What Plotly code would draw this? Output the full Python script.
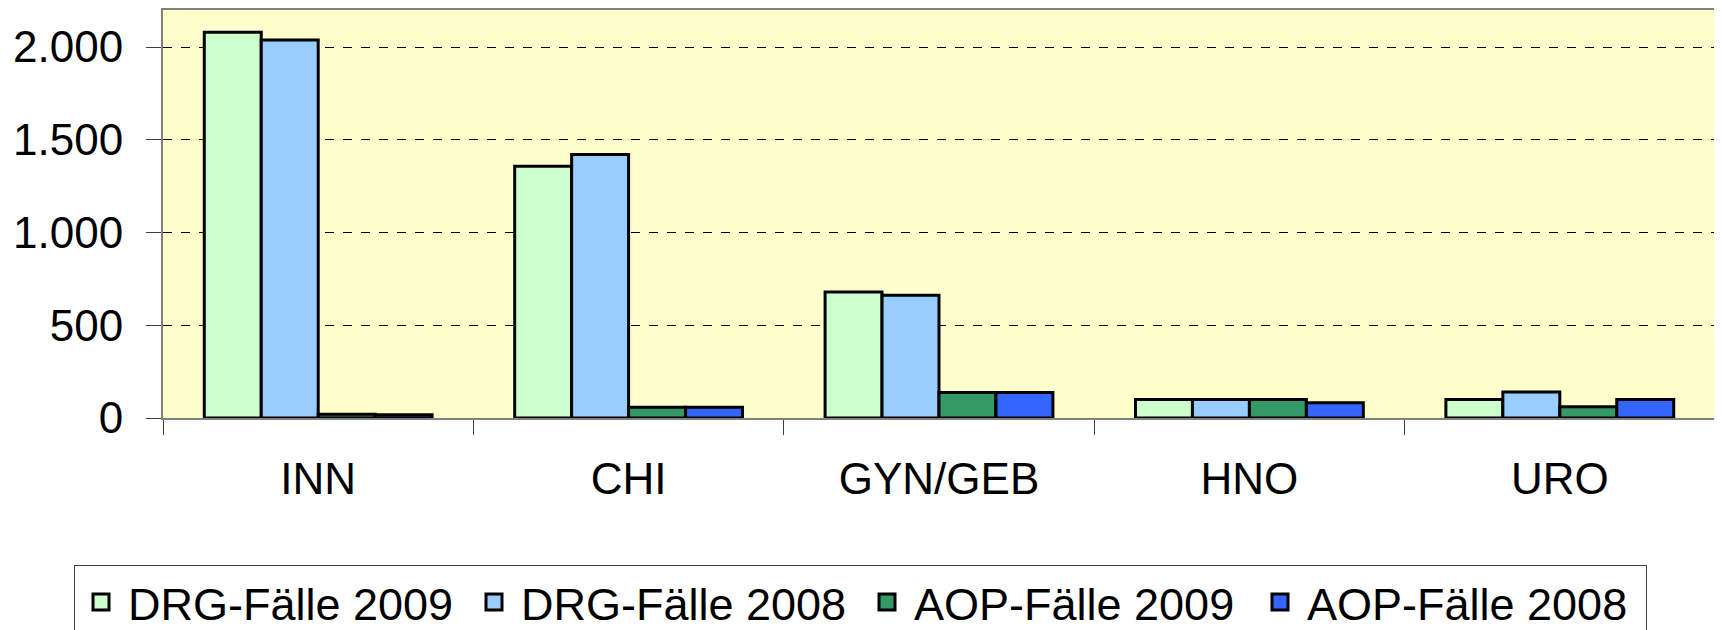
import plotly.graph_objects as go

categories = ["INN", "CHI", "GYN/GEB", "HNO", "URO"]
drg_2009 = [2080, 1358, 680, 100, 100]
drg_2008 = [2038, 1421, 662, 100, 140]
aop_2009 = [20, 58, 138, 100, 60]
aop_2008 = [18, 58, 138, 82, 100]

series = [
    ("DRG-Fälle 2009", drg_2009, "#CCFFCC"),
    ("DRG-Fälle 2008", drg_2008, "#99CCFF"),
    ("AOP-Fälle 2009", aop_2009, "#339966"),
    ("AOP-Fälle 2008", aop_2008, "#3366FF"),
]

fig = go.Figure()
for name, vals, color in series:
    fig.add_trace(
        go.Bar(
            x=categories,
            y=vals,
            name=name,
            legendgroup=name,
            showlegend=False,
            marker=dict(color=color, line=dict(color="black", width=3)),
        )
    )

# legend entries with bigger square symbols than the bar default
for name, vals, color in series:
    fig.add_trace(
        go.Scatter(
            x=[None],
            y=[None],
            mode="markers",
            name=name,
            legendgroup=name,
            marker=dict(symbol="square", size=16, color=color,
                        line=dict(color="black", width=3)),
        )
    )

# page body has an 8px margin, so the figure is 8px smaller each way
W, H = 1714, 622
ml, mr, mt, mb = 155, 7, 2, 211.5
plot_w = W - ml - mr
plot_h = H - mt - mb

fig.update_layout(
    width=W,
    height=H,
    margin=dict(l=ml, r=mr, t=mt, b=mb, autoexpand=False),
    paper_bgcolor="white",
    plot_bgcolor="#FFFFCC",
    barmode="group",
    bargap=0.266,
    bargroupgap=0,
    separators=",.",
    font=dict(family="Liberation Sans, Arial, sans-serif", size=44, color="black"),
    legend=dict(
        orientation="h",
        x=(66 - ml) / plot_w,
        xanchor="left",
        y=(H - mb - 558) / plot_h,
        yanchor="top",
        bordercolor="#404040",
        borderwidth=1,
        font=dict(size=45),
        itemwidth=44,
        entrywidth=334,
        tracegroupgap=0,
    ),
)

fig.update_yaxes(
    range=[0, 2200],
    tickvals=[0, 500, 1000, 1500, 2000],
    tickformat=",d",
    showgrid=True,
    gridcolor="black",
    griddash="dash",
    gridwidth=1,
    ticks="outside",
    ticklen=15,
    tickcolor="#404040",
    ticklabelstandoff=14,
    showline=True,
    linecolor="#808080",
    linewidth=2,
    mirror=True,
    zeroline=False,
)

fig.update_xaxes(
    ticks="outside",
    tickson="boundaries",
    ticklen=15,
    tickcolor="#404040",
    ticklabelstandoff=21,
    showline=True,
    linecolor="#808080",
    linewidth=2,
    mirror=True,
)

fig.write_html("out.html")
